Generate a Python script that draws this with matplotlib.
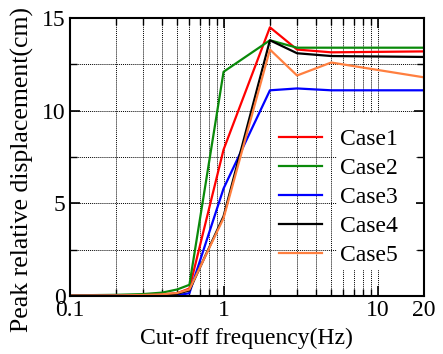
import matplotlib
matplotlib.use("Agg")
import matplotlib.pyplot as plt
from matplotlib.patches import Rectangle
from matplotlib.ticker import LogLocator, FixedLocator, NullFormatter

plt.rcParams['font.family'] = ['Liberation Serif', 'DejaVu Serif']

freq = [0.1, 0.2, 0.3, 0.4, 0.5, 0.6, 1, 2, 3, 5, 20]
case1 = [0.02, 0.03, 0.05, 0.08, 0.15, 0.4, 7.9, 14.5, 13.3, 13.15, 13.2]
case2 = [0.03, 0.06, 0.1, 0.18, 0.35, 0.6, 12.1, 13.8, 13.4, 13.4, 13.4]
case3 = [0.01, 0.02, 0.03, 0.04, 0.03, 0.15, 5.8, 11.1, 11.2, 11.1, 11.1]
case4 = [0.01, 0.02, 0.04, 0.07, 0.12, 0.3, 4.3, 13.8, 13.1, 12.95, 12.9]
case5 = [0.02, 0.03, 0.05, 0.09, 0.16, 0.35, 4.2, 13.3, 11.9, 12.6, 11.8]
labels = ['Case1', 'Case2', 'Case3', 'Case4', 'Case5']
colors = ['#ff0000', '#0a8a0a', '#0000ff', '#000000', '#ff7f3f']

fig = plt.figure(figsize=(4.43, 3.54), dpi=100)
ax = fig.add_axes([0.157, 0.164, 0.8, 0.785])

for ys, lab, c in zip([case1, case2, case3, case4, case5], labels, colors):
    ax.plot(freq, ys, color=c, lw=1.6, label=lab)

ax.set_xscale('log')
ax.set_xlim(0.1, 20)
ax.set_ylim(0, 15)
ax.set_xticks([0.1, 1, 10, 20])
ax.set_xticklabels(['0.1', '1', '10', '20'])
ax.xaxis.set_minor_locator(LogLocator(base=10, subs=range(2, 10)))
ax.xaxis.set_minor_formatter(NullFormatter())
ax.set_yticks([0, 5, 10, 15])
ax.yaxis.set_minor_locator(FixedLocator([2.5, 7.5, 12.5]))

ax.grid(True, which='both', color='black', ls=(0, (1, 1)), lw=0.7)
ax.tick_params(which='both', direction='in', top=True, right=True, labelsize=17, pad=3)
ax.tick_params(which='major', length=7, width=1.2)
ax.tick_params(which='minor', length=5, width=1.0)
for s in ax.spines.values():
    s.set_linewidth(1.5)

ax.set_xlabel('Cut-off frequency(Hz)', fontsize=17, labelpad=5)
ax.set_ylabel('Peak relative displacement(cm)', fontsize=18.5)
ax.yaxis.set_label_coords(-0.10, 0.455)

# white block behind the legend text (grid hidden there)
ax.add_patch(Rectangle((0.755, 0.094), 0.222, 0.564, transform=ax.transAxes,
                       facecolor='white', edgecolor='none', zorder=1.8))

leg = ax.legend(loc='upper left', bbox_to_anchor=(0.591, 0.6025), fontsize=17, frameon=False,
                handlelength=1.82, labelspacing=0.32, borderpad=0, borderaxespad=0,
                handletextpad=0.76)

fig.savefig('out.png', dpi=100)
